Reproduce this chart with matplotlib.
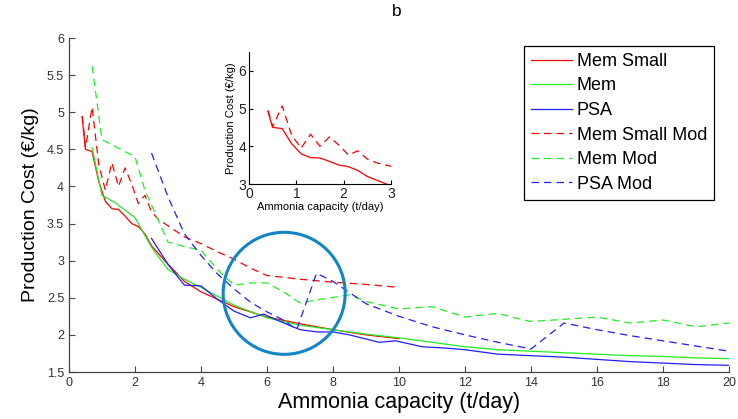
import matplotlib
matplotlib.use("Agg")
import matplotlib.pyplot as plt
from matplotlib.patches import Ellipse

plt.rcParams['font.family'] = ['Liberation Sans', 'DejaVu Sans']

# ---------------- data ----------------
mem_small_x = [0.4, 0.45, 0.5, 0.7, 0.9, 1.1, 1.3, 1.5, 1.7, 1.9, 2.1, 2.3, 2.5, 2.7, 2.9,
               3.5, 4.0, 4.5, 5.0, 6.0, 7.0, 8.0, 9.0, 10.0]
mem_small_y = [4.93, 4.7, 4.5, 4.47, 4.07, 3.8, 3.7, 3.69, 3.6, 3.5, 3.46, 3.36, 3.2, 3.1, 3.0,
               2.72, 2.58, 2.48, 2.38, 2.24, 2.15, 2.07, 2.0, 1.95]

mem_x = [0.7, 1.0, 1.4, 2.0, 2.2, 2.5, 3.0, 3.5, 4.0, 5.0, 6.0, 7.0, 8.0, 9.0, 10.0,
         11.0, 12.0, 13.0, 14.0, 15.0, 16.0, 17.0, 18.0, 19.0, 20.0]
mem_y = [4.52, 3.88, 3.78, 3.58, 3.42, 3.18, 2.88, 2.75, 2.64, 2.4, 2.23, 2.13, 2.07, 2.01, 1.96,
         1.9, 1.84, 1.8, 1.78, 1.76, 1.74, 1.72, 1.71, 1.69, 1.68]

psa_x = [2.5, 3.0, 3.3, 3.5, 4.0, 4.5, 5.0, 5.5, 5.9, 6.3, 7.0, 7.5, 8.0, 8.5, 9.4, 9.9,
         10.7, 11.5, 12.0, 13.0, 14.0, 15.0, 16.0, 17.0, 18.0, 19.0, 20.0]
psa_y = [3.3, 2.95, 2.78, 2.67, 2.66, 2.48, 2.32, 2.23, 2.28, 2.2, 2.07, 2.04, 2.04, 2.0, 1.9, 1.92,
         1.84, 1.82, 1.8, 1.74, 1.72, 1.7, 1.67, 1.64, 1.62, 1.6, 1.59]

mem_small_mod_x = [0.4, 0.45, 0.5, 0.7, 0.9, 1.1, 1.3, 1.5, 1.7, 1.9, 2.1, 2.3, 2.5, 2.7, 3.0,
                   3.5, 4.0, 4.5, 5.0, 5.5, 6.0, 7.0, 8.0, 9.0, 10.0]
mem_small_mod_y = [4.95, 4.75, 4.52, 5.07, 4.3, 3.95, 4.32, 4.0, 4.25, 4.03, 3.77, 3.88, 3.66, 3.56, 3.47,
                   3.32, 3.23, 3.12, 3.02, 2.9, 2.8, 2.75, 2.71, 2.68, 2.64]

mem_mod_x = [0.7, 1.0, 2.0, 2.3, 2.7, 3.0, 3.5, 4.0, 4.5, 5.0, 5.5, 6.0, 6.5, 7.0, 7.5, 8.5, 9.0,
             10.0, 11.0, 12.0, 13.0, 13.5, 14.0, 15.0, 16.0, 17.0, 18.0, 19.0, 20.0]
mem_mod_y = [5.62, 4.63, 4.4, 3.95, 3.55, 3.25, 3.19, 3.14, 2.88, 2.67, 2.7, 2.7, 2.58, 2.43, 2.47, 2.54, 2.45,
             2.35, 2.38, 2.24, 2.29, 2.23, 2.18, 2.21, 2.24, 2.16, 2.2, 2.11, 2.16]

psa_mod_x = [2.5, 3.0, 3.5, 4.0, 4.5, 5.0, 5.5, 6.0, 6.5, 6.9, 7.5, 8.0, 9.0, 10.0, 11.0, 12.0,
             13.0, 14.0, 15.0, 16.0, 17.0, 18.0, 19.0, 20.0]
psa_mod_y = [4.45, 3.86, 3.36, 3.07, 2.82, 2.62, 2.44, 2.31, 2.2, 2.07, 2.83, 2.72, 2.42, 2.25, 2.11, 2.0,
             1.9, 1.81, 2.16, 2.07, 1.99, 1.92, 1.85, 1.78]

series_labels = ["Mem Small", "Mem", "PSA", "Mem Small Mod", "Mem Mod", "PSA Mod"]
x_ticks = [0, 2, 4, 6, 8, 10, 12, 14, 16, 18, 20]
y_ticks = [1.5, 2, 2.5, 3, 3.5, 4, 4.5, 5, 5.5, 6]
inset_x_ticks = [0, 1, 2, 3]
inset_y_ticks = [3, 4, 5, 6]

# ---------------- figure ----------------
W, H = 738, 419
fig = plt.figure(figsize=(W / 100, H / 100), dpi=100)

ax = fig.add_axes([69 / W, (H - 372) / H, 660 / W, 334 / H])
RED, GREEN, BLUE = '#ff0000', '#22ee22', '#2020ff'
lw = 0.9
dash = (6.0, 4.0)

ax.plot(mem_small_x, mem_small_y, color=RED, lw=lw, label=series_labels[0])
ax.plot(mem_x, mem_y, color=GREEN, lw=lw, label=series_labels[1])
ax.plot(psa_x, psa_y, color=BLUE, lw=lw, label=series_labels[2])
ax.plot(mem_small_mod_x, mem_small_mod_y, color=RED, lw=lw, dashes=dash, label=series_labels[3])
ax.plot(mem_mod_x, mem_mod_y, color=GREEN, lw=lw, dashes=dash, label=series_labels[4])
ax.plot(psa_mod_x, psa_mod_y, color=BLUE, lw=lw, dashes=dash, label=series_labels[5])

ax.set_xlim(0, 20)
ax.set_ylim(1.5, 6)
ax.set_xticks(x_ticks)
ax.set_yticks(y_ticks)
ax.set_yticklabels([("%g" % v) for v in y_ticks])
for s in ['top', 'right']:
    ax.spines[s].set_visible(False)
for s in ['left', 'bottom']:
    ax.spines[s].set_color('#444444')
    ax.spines[s].set_linewidth(0.9)
ax.tick_params(direction='in', length=4, width=0.8, colors='#444444', labelsize=9,
               labelcolor='#333333')
ax.set_xlabel("Ammonia capacity (t/day)", fontsize=15.5, labelpad=2)
ax.set_ylabel("Production Cost (€/kg)", fontsize=14, labelpad=6,
              family=['Liberation Sans Narrow', 'Liberation Sans', 'DejaVu Sans'])

# highlight circle
circ = Ellipse((6.52, 2.56), width=122 / 33, height=122 / 74.2, fill=False,
               edgecolor='#1185c6', lw=2.2, zorder=5)
ax.add_patch(circ)

fig.text(397 / W, 1 - 12 / H, "b", fontsize=12.5, ha='center', va='center')

leg = ax.legend(loc='upper left', bbox_to_anchor=(524 / W, 1 - 46 / H),
                bbox_transform=fig.transFigure, borderaxespad=0, fontsize=13,
                fancybox=False, framealpha=1, edgecolor='black', labelspacing=0.42,
                handlelength=2.3, handletextpad=0.25, borderpad=0.38)
leg.get_frame().set_linewidth(0.9)

# inset
axi = fig.add_axes([249 / W, (H - 184) / H, 142 / W, 132 / H])
axi.plot(mem_small_x, mem_small_y, color=RED, lw=lw)
axi.plot(mem_small_mod_x, mem_small_mod_y, color=RED, lw=lw, dashes=dash)
axi.set_xlim(0, 3)
axi.set_ylim(3, 6.5)
axi.set_xticks(inset_x_ticks)
axi.set_yticks(inset_y_ticks)
for s in ['top', 'right']:
    axi.spines[s].set_visible(False)
axi.tick_params(direction='in', length=3, width=0.8, labelsize=10, labelcolor='#222222', pad=2)
axi.set_xlabel("Ammonia capacity (t/day)", fontsize=8, labelpad=1)
axi.set_ylabel("Production Cost (€/kg)", fontsize=8, labelpad=2)

fig.savefig("out.png", dpi=100)
